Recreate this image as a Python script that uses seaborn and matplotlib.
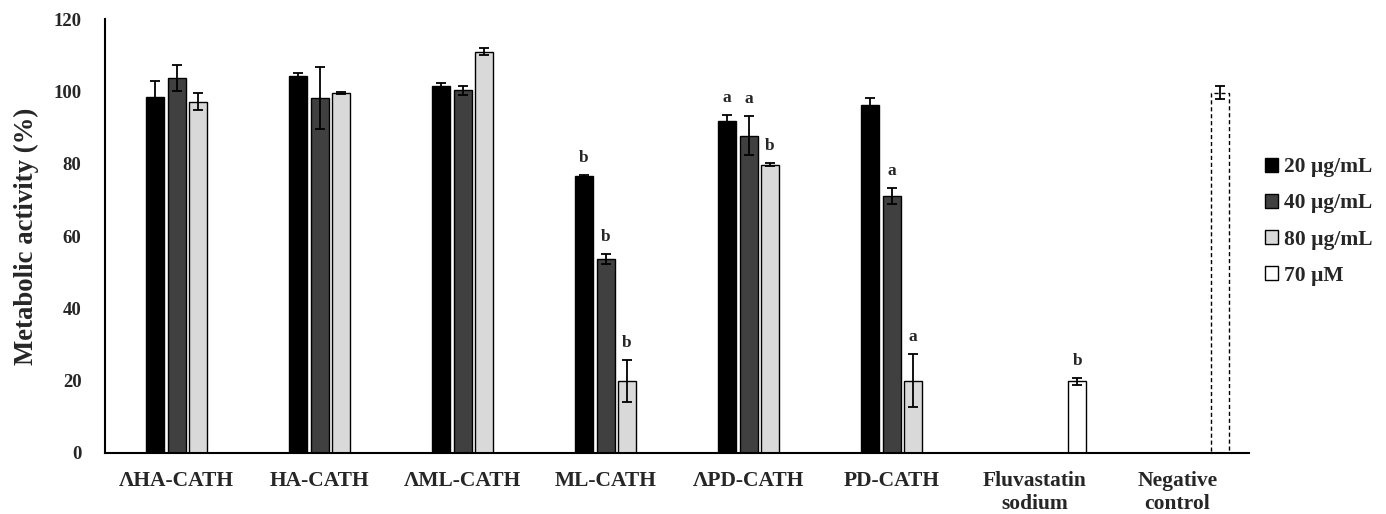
import matplotlib
matplotlib.use('Agg')
import matplotlib.pyplot as plt
from matplotlib.patches import Patch
import seaborn as sns
import pandas as pd

# groups on the x axis
categories = ["ΛHA-CATH", "HA-CATH", "ΛML-CATH", "ML-CATH", "ΛPD-CATH",
              "PD-CATH", "Fluvastatin\nsodium", "Negative\ncontrol"]

# peptide concentrations (first six groups)
conc_20 = [98.6, 104.2, 101.5, 76.6, 91.9, 96.3]
conc_20_err = [4.2, 0.9, 0.9, 0.2, 1.7, 1.9]
conc_40 = [103.8, 98.2, 100.3, 53.7, 87.8, 71.1]
conc_40_err = [3.6, 8.6, 1.3, 1.4, 5.5, 2.2]
conc_80 = [97.2, 99.6, 111.0, 19.9, 79.8, 20.0]
conc_80_err = [2.3, 0.4, 1.0, 5.8, 0.5, 7.3]

# fluvastatin 70 uM and the negative control
ctrl_values = [19.8, 99.6]
ctrl_err = [1.0, 1.8]

# significance letters, same order as above ("" = none)
letters_20 = ["", "", "", "b", "a", ""]
letters_40 = ["", "", "", "b", "a", "a"]
letters_80 = ["", "", "", "b", "b", "a"]
letters_ctrl = ["b", ""]

series = ["_blank", "20 µg/mL", "40 µg/mL", "80 µg/mL", "70 µM"]
colors = ["#ffffff", "#000000", "#404040", "#d9d9d9", "#ffffff"]

rows = []
for vals, errs, labs, name in [(conc_20, conc_20_err, letters_20, series[1]),
                               (conc_40, conc_40_err, letters_40, series[2]),
                               (conc_80, conc_80_err, letters_80, series[3])]:
    for cat, v, e, l in zip(categories[:6], vals, errs, labs):
        rows.append({"group": cat, "series": name, "value": v, "err": e, "letter": l})
for cat, v, e, l in zip(categories[6:], ctrl_values, ctrl_err, letters_ctrl):
    rows.append({"group": cat, "series": series[4], "value": v, "err": e, "letter": l})
df = pd.DataFrame(rows)

sns.set_style("white")
plt.rcParams['font.family'] = ['Liberation Serif', 'DejaVu Serif']
plt.rcParams['font.weight'] = 'bold'

fig = plt.figure(figsize=(13.86, 5.14), dpi=100)
ax = fig.add_axes([0.0758, 0.119, 0.8254, 0.8435])

sns.barplot(data=df, x="group", y="value", hue="series", order=categories,
            hue_order=series, palette=colors, width=0.75, gap=0.16,
            errorbar=None, edgecolor="black", linewidth=1.0, legend=False, ax=ax)

# match patches back to rows to add error bars, letters and dashed control
for patch in ax.patches:
    h = patch.get_height()
    if h == 0 or pd.isna(h):
        continue
    xc = patch.get_x() + patch.get_width() / 2
    gi = int(round(xc))
    row = df[(df["group"] == categories[gi]) & ((df["value"] - h).abs() < 1e-6)].iloc[0]
    ax.errorbar(xc, h, yerr=row["err"], fmt="none", ecolor="black",
                elinewidth=1.3, capsize=3.5, capthick=1.3)
    if row["letter"]:
        ax.text(xc, h + row["err"] + 2.5, row["letter"], ha="center", va="bottom",
                fontsize=12.5, fontweight="bold")
    if categories[gi].startswith("Negative"):
        patch.set_linestyle((0, (3, 2)))

ax.set_xlim(-0.5, len(categories) - 0.5)
ax.set_ylim(0, 120)
ax.set_yticks(range(0, 121, 20))
ax.set_xticks([i - 0.5 for i in range(len(categories) + 1)])
ax.set_xticklabels([])
ax.set_xticks(range(len(categories)), minor=True)
ax.set_xticklabels(categories, minor=True, fontsize=15.5, fontweight="bold",
                   linespacing=1.2)
ax.tick_params(axis="x", which="minor", length=0, pad=13)
ax.tick_params(axis="x", which="major", direction="out", length=6, width=1.3, color="black")
ax.tick_params(axis="y", direction="out", length=5, width=1.3, color="black",
               labelsize=13.5, pad=12)
for lab in ax.get_yticklabels():
    lab.set_fontweight("bold")
ax.set_xlabel("")
ax.set_ylabel("Metabolic activity (%)", fontsize=19.3, fontweight="bold", labelpad=10)

sns.despine(ax=ax)
for s in ["left", "bottom"]:
    ax.spines[s].set_color("black")
    ax.spines[s].set_linewidth(1.5)

handles = [Patch(facecolor=c, edgecolor="black", linewidth=1.0, label=s)
           for s, c in zip(series[1:], colors[1:])]
fig.legend(handles=handles, loc="upper left", bbox_to_anchor=(0.913, 0.694),
           frameon=False, borderpad=0, borderaxespad=0,
           handlelength=0.6, handleheight=0.6, handletextpad=0.25,
           labelspacing=0.75, prop={"weight": "bold", "size": 15.5})

fig.savefig("out.png", dpi=100)
